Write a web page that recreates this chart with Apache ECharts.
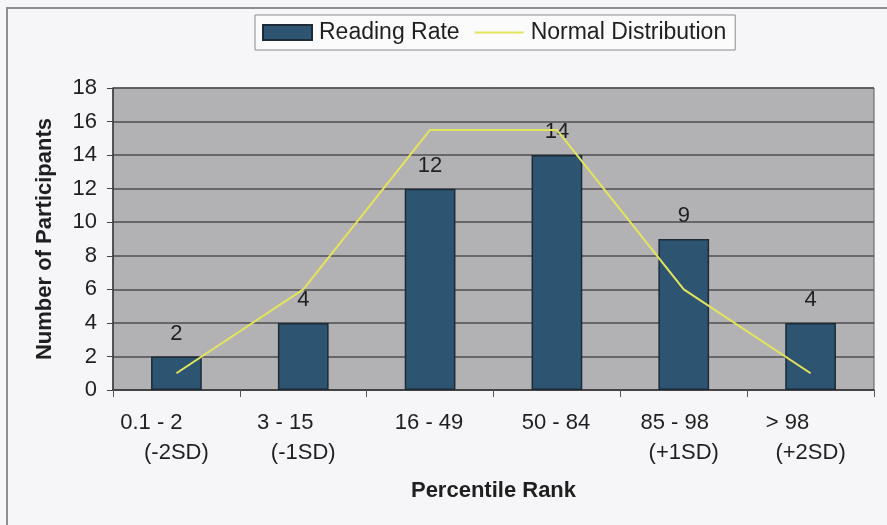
<!DOCTYPE html>
<html>
<head>
<meta charset="utf-8">
<script src="https://cdn.jsdelivr.net/npm/echarts@6/dist/echarts.min.js"></script>
<style>
  html, body { margin: 0; padding: 0; background: #f6f6f8; }
  #chart { width: 887px; height: 525px; }
</style>
</head>
<body>
<div id="chart"></div>
<script>
// Percentile rank bands (second line holds the SD marker where there is one)
const categories = ['0.1 - 2\n(-2SD)', '3 - 15\n(-1SD)', '16 - 49', '50 - 84', '85 - 98\n(+1SD)', '> 98\n(+2SD)'];
// Participants observed in each band
const readingRate = [2, 4, 12, 14, 9, 4];
// Expected counts under a normal distribution
const normalDistribution = [1, 6, 15.5, 15.5, 6, 1];
// Y axis ticks
const yMin = 0, yMax = 18, yStep = 2;

// Horizontal nudge of the first label line, in px (negative = left)
const firstLineShift = [-25, -18, -1, -1, -9, -23];

const FONT = '"Liberation Sans", Arial, sans-serif';
const TEXT = '#1f1f1f';
const TICK_SIZE = 22;

const rich = { b: { fontSize: TICK_SIZE, fontFamily: FONT, color: TEXT, lineHeight: 30 } };
firstLineShift.forEach((s, i) => {
  const pad = Math.abs(s) * 2;
  rich['s' + i] = {
    fontSize: TICK_SIZE, fontFamily: FONT, color: TEXT, lineHeight: 30,
    padding: s < 0 ? [0, pad, 0, 0] : [0, 0, 0, pad]
  };
});

const chart = echarts.init(document.getElementById('chart'));
chart.setOption({
  backgroundColor: '#f6f6f8',
  animation: false,
  textStyle: { fontFamily: FONT },
  graphic: [{
    type: 'rect',
    shape: { x: 7, y: 8, width: 900, height: 600 },
    style: { fill: 'none', stroke: '#8e8e92', lineWidth: 2 },
    silent: true, z: -1
  }],
  legend: {
    left: 255, top: 15,
    padding: [6, 9, 6, 7],
    itemGap: 14,
    itemWidth: 49, itemHeight: 15,
    borderColor: '#8a8a8a', borderWidth: 1,
    backgroundColor: '#fbfbfc',
    textStyle: { fontSize: 23, fontFamily: FONT, color: TEXT, padding: [0, 0, 0, 2] },
    data: [
      { name: 'Reading Rate', icon: 'rect' },
      { name: 'Normal Distribution', itemStyle: { opacity: 0 } }
    ]
  },
  grid: {
    left: 113, right: 13, top: 88, bottom: 135,
    show: true,
    backgroundColor: '#b2b2b5',
    borderColor: '#5a5a5e', borderWidth: 1
  },
  xAxis: {
    type: 'category',
    data: categories,
    boundaryGap: true,
    name: 'Percentile Rank',
    nameLocation: 'middle',
    nameGap: 90,
    nameTextStyle: { fontSize: 22, fontWeight: 'bold', fontFamily: FONT, color: TEXT },
    axisLine: { lineStyle: { color: '#3a3a3a', width: 1.5 } },
    axisTick: { show: true, length: 7, inside: false, lineStyle: { color: '#555' } },
    axisLabel: {
      margin: 18,
      interval: 0,
      formatter: (value, idx) => {
        const parts = value.split('\n');
        let out = '{s' + idx + '|' + parts[0] + '}';
        if (parts.length > 1) out += '\n{b|' + parts[1] + '}';
        return out;
      },
      rich: rich
    }
  },
  yAxis: {
    type: 'value',
    min: yMin, max: yMax, interval: yStep,
    name: 'Number of Participants',
    nameLocation: 'middle',
    nameGap: 57,
    nameTextStyle: { fontSize: 22, fontWeight: 'bold', fontFamily: FONT, color: TEXT },
    axisLine: { show: true, lineStyle: { color: '#3a3a3a', width: 1.5 } },
    axisTick: { show: true, length: 6, inside: false, lineStyle: { color: '#444' } },
    axisLabel: { fontSize: TICK_SIZE, fontFamily: FONT, color: TEXT, margin: 16 },
    splitLine: { show: true, lineStyle: { color: '#4e4e52', width: 1.5 } }
  },
  series: [
    {
      name: 'Reading Rate',
      type: 'bar',
      data: readingRate,
      barWidth: '40%',
      itemStyle: { color: '#2d5571', borderColor: '#1c2b36', borderWidth: 1.5 },
      label: {
        show: true, position: 'top', distance: 12,
        fontSize: TICK_SIZE, fontFamily: FONT, color: TEXT
      },
      z: 2
    },
    {
      name: 'Normal Distribution',
      type: 'line',
      data: normalDistribution,
      symbol: 'none',
      smooth: false,
      lineStyle: { color: '#e4e45c', width: 2 },
      itemStyle: { color: '#e4e45c' },
      z: 3
    }
  ]
});
</script>
</body>
</html>
